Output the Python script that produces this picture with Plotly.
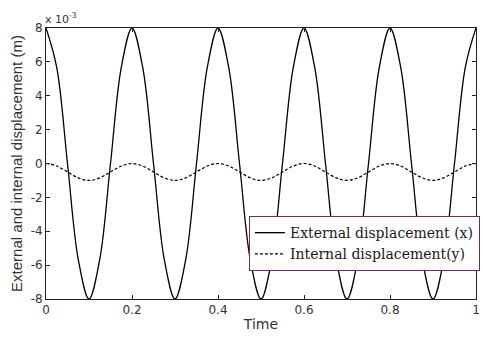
import plotly.graph_objects as go

# Time samples (s)
time = [round(0.025 * k, 3) for k in range(41)]

# External displacement x (in units of 1e-3 m)
external = [8, 5.66, 0, -5.66, -8, -5.66, 0, 5.66,
            8, 5.66, 0, -5.66, -8, -5.66, 0, 5.66,
            8, 5.66, 0, -5.66, -8, -5.66, 0, 5.66,
            8, 5.66, 0, -5.66, -8, -5.66, 0, 5.66,
            8, 5.66, 0, -5.66, -8, -5.66, 0, 5.66,
            8]

# Internal displacement y (in units of 1e-3 m)
internal = [0, -0.15, -0.5, -0.85, -1.0, -0.85, -0.5, -0.15,
            0, -0.15, -0.5, -0.85, -1.0, -0.85, -0.5, -0.15,
            0, -0.15, -0.5, -0.85, -1.0, -0.85, -0.5, -0.15,
            0, -0.15, -0.5, -0.85, -1.0, -0.85, -0.5, -0.15,
            0, -0.15, -0.5, -0.85, -1.0, -0.85, -0.5, -0.15,
            0]

xticks = [0, 0.2, 0.4, 0.6, 0.8, 1]
xticklabels = ["0", "0.2", "0.4", "0.6", "0.8", "1"]
yticks = [-8, -6, -4, -2, 0, 2, 4, 6, 8]
yticklabels = ["-8", "-6", "-4", "-2", "0", "2", "4", "6", "8"]

fig = go.Figure()
fig.add_trace(go.Scatter(x=time, y=external, mode="lines",
                         name="External displacement (x)",
                         line=dict(color="black", width=1.3, shape="spline", smoothing=1.0)))
fig.add_trace(go.Scatter(x=time, y=internal, mode="lines",
                         name="Internal displacement(y)",
                         line=dict(color="black", width=1.2, dash="3px,2px", shape="spline", smoothing=1.0)))

axis_common = dict(showline=True, linecolor="#222", linewidth=1, mirror="ticks",
                   ticks="inside", ticklen=4, tickcolor="#222", showgrid=False,
                   zeroline=False, tickfont=dict(family="DejaVu Sans", size=12, color="#333"))

fig.update_xaxes(range=[0, 1], tickvals=xticks, ticktext=xticklabels,
                 title=dict(text="Time", font=dict(family="DejaVu Sans", size=14, color="#333"), standoff=2),
                 **axis_common)
fig.update_yaxes(range=[-8, 8], tickvals=yticks, ticktext=yticklabels,
                 title=dict(text="External and internal displacement (m)",
                            font=dict(family="Liberation Sans", size=15, color="#333"), standoff=4),
                 **axis_common)

fig.add_annotation(text="x 10<sup>-3</sup>", xref="paper", yref="paper", x=-0.008, y=1.0,
                   xanchor="left", yanchor="bottom", showarrow=False,
                   font=dict(family="DejaVu Sans", size=11, color="#333"))

fig.update_layout(
    width=483, height=340,
    margin=dict(l=46, r=3, t=28, b=41),
    plot_bgcolor="white", paper_bgcolor="white",
    legend=dict(x=0.472, y=0.306, xanchor="left", yanchor="top",
                bgcolor="white", bordercolor="#6b2c6b", borderwidth=1,
                font=dict(family="DejaVu Serif", size=14, color="#1a1a1a"),
                tracegroupgap=0, itemwidth=30),
)

fig.write_html("out.html")
